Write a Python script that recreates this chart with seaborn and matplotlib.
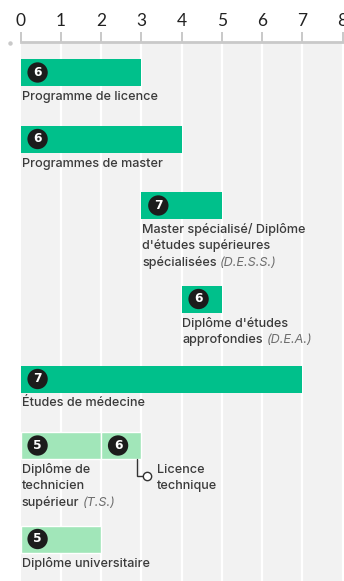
import matplotlib
matplotlib.use("Agg")
import matplotlib.pyplot as plt
import seaborn as sns
import pandas as pd

# ---- data ----
programs = [
    "Programme de licence",
    "Programmes de master",
    "Master spécialisé/ Diplôme\nd'études supérieures\nspécialisées",
    "Diplôme d'études\napprofondies",
    "Études de médecine",
    "Diplôme de\ntechnicien\nsupérieur",
    "Licence\ntechnique",
    "Diplôme universitaire",
]
abbreviations = ["", "", "(D.E.S.S.)", "(D.E.A.)", "", "(T.S.)", "", ""]
start_years = [0, 0, 3, 4, 0, 0, 2, 0]
end_years = [3, 4, 5, 5, 7, 2, 3, 2]
levels = [6, 6, 7, 6, 7, 5, 6, 5]
row_index = [0, 1, 2, 3, 4, 5, 5, 6]
track = ["general", "general", "general", "general", "general", "technical", "technical", "technical"]
x_ticks = [0, 1, 2, 3, 4, 5, 6, 7, 8]

df = pd.DataFrame({
    "program": programs, "abbr": abbreviations, "start": start_years,
    "end": end_years, "level": levels, "row": row_index, "track": track,
})

# ---- style ----
sns.set_theme(style="white")
FONT = ["Inter", "DejaVu Sans"]
plt.rcParams["font.family"] = FONT
palette = {"general": "#00c08b", "technical": "#a1e6b9"}
TEXT = "#3b3b3b"
AXIS = "#c9c9c9"

W, H = 344, 581
fig = plt.figure(figsize=(W / 100, H / 100), dpi=100)
top_px = 42
ax = fig.add_axes([20.5 / W, 0, 322 / W, 1 - top_px / H])
ax.set_xlim(0, 8)
ax.set_ylim(H, top_px)  # layout units = pixels from top
ax.set_facecolor("#f2f2f2")

# vertical layout of rows (layout only)
bar_h = 27
first_top = 59
n_lines = []
for r in sorted(set(row_index)):
    sub = df[df.row == r]
    n_lines.append(max(p.count("\n") + 1 for p in sub.program))
row_top = [first_top]
for nl in n_lines[:-1]:
    row_top.append(row_top[-1] + bar_h + 26 + 13.5 * nl)

# grid
for xv in x_ticks[1:]:
    ax.axvline(xv, color="white", lw=1.6, zorder=0.5)

# bars
for _, d in df.iterrows():
    yc = row_top[d.row] + bar_h / 2
    light = d.track == "technical"
    ax.barh(yc, d.end - d.start, left=d.start, height=bar_h,
            color=palette[d.track], edgecolor="white" if light else "none",
            linewidth=1.0 if light else 0, zorder=2)
    ax.annotate(str(d.level), xy=(d.start, yc), xytext=(12.3, 0),
                textcoords="offset points", ha="center", va="center",
                color="white", fontsize=8.8, fontweight="bold",
                family=["DejaVu Sans"],
                bbox=dict(boxstyle="circle,pad=0.3", fc="#1c1c1c", ec="none"),
                zorder=4)

# labels
pt = 72 / 100
for i, d in df.iterrows():
    bottom = row_top[d.row] + bar_h
    lines = d.program.split("\n")
    if d.program.startswith("Licence"):
        xl = d.end - 0.11
        ax.plot([xl, xl, d.end + 0.14], [bottom, bottom + 17, bottom + 17],
                color="#333333", lw=1, zorder=3, solid_joinstyle="miter")
        ax.plot(d.end + 0.14, bottom + 17, "o", ms=6, mfc="white",
                mec="#333333", mew=1, zorder=4)
        x0 = d.end + 0.37
    else:
        x0 = d.start
    last = None
    for k, line in enumerate(lines):
        last = ax.annotate(line, xy=(x0, bottom),
                           xytext=(1 * pt, -(14 + 16.3 * k) * pt),
                           textcoords="offset points", ha="left",
                           va="baseline", fontsize=9.1, fontweight="medium",
                           color=TEXT, zorder=3)
    if d.abbr:
        ax.annotate(d.abbr, xy=(1, 0), xycoords=last, xytext=(2.5, 0),
                    textcoords="offset points", ha="left", va="bottom",
                    fontsize=9.1, fontstyle="italic", color="#6e6e6e")

# axis styling
ax.xaxis.tick_top()
ax.set_xticks(x_ticks)
ax.set_xticklabels([str(t) for t in x_ticks], family=["Lato", "DejaVu Sans"])
ax.tick_params(axis="x", direction="out", length=7.5, width=1.4, color=AXIS,
               labelsize=12.5, labelcolor="#222222", pad=1.5)
ax.set_yticks([])
for s in ["left", "right", "bottom"]:
    ax.spines[s].set_visible(False)
ax.spines["top"].set_color(AXIS)
ax.spines["top"].set_linewidth(2)
ax.plot(-0.26, top_px + 1, "o", ms=3.2, color=AXIS, clip_on=False, mec="none")

fig.savefig("out.png", dpi=100)
